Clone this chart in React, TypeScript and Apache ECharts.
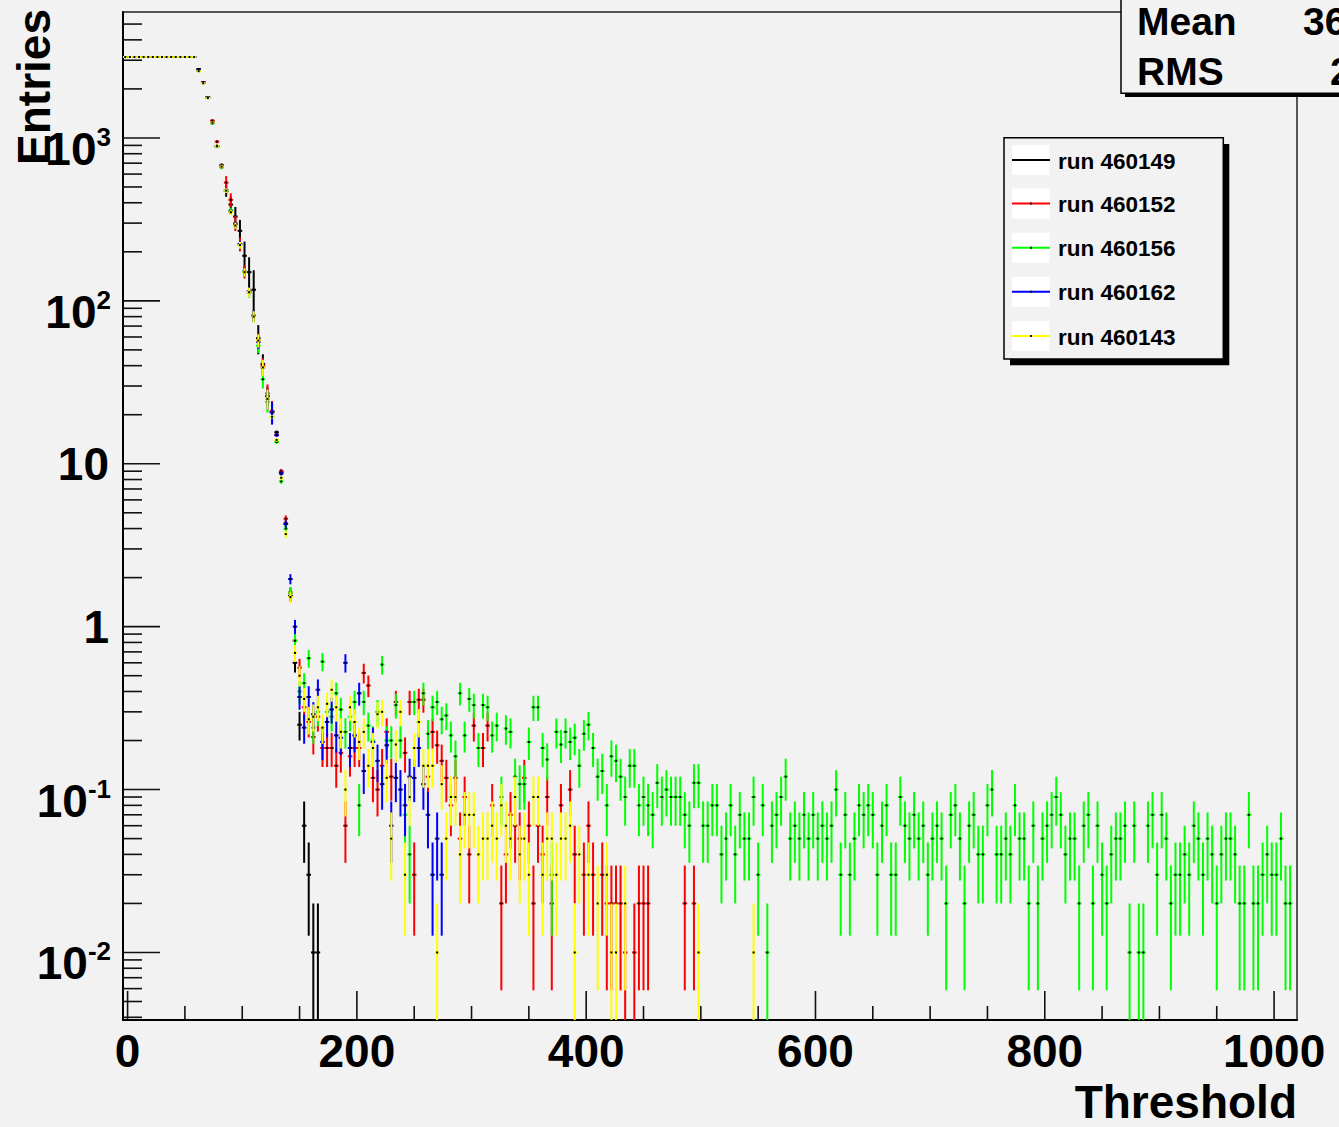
import React, { useEffect, useRef } from "react";
import * as echarts from "echarts";

// ---------- axes ----------
const BIN_WIDTH = 4;
const X_MIN = -4;
const X_MAX = 1020;
const Y_MIN = 0.00385;
const Y_MAX = 5930;

const X_LABELS = [0, 200, 400, 600, 800, 1000];
const X_MINOR_TICKS = [50, 100, 150, 250, 300, 350, 450, 500, 550, 650, 700, 750, 850, 900, 950];
const Y_LABELS = [0.01, 0.1, 1, 10, 100, 1000];
const Y_MINOR_MANTISSAS = [2, 3, 4, 5, 6, 7, 8, 9];
const Y_DECADES = [0.001, 0.01, 0.1, 1, 10, 100, 1000];

// ---------- runs ----------
const RUN_NAMES = ["run 460149", "run 460152", "run 460156", "run 460162", "run 460143"];
const RUN_COLORS = ["#000000", "#ff0000", "#00ff00", "#0000ff", "#ffff00"];

const STAT_LABELS = ["Mean", "RMS"];
const STAT_VALUES = ["36.45", "22.86"];

// head bins: centres -2, 2, 6, ... 146 (38 bins)
const HEAD_FIRST_CENTER = -2;
// tail bins: centres 150, 154, ...
const TAIL_FIRST_CENTER = 150;

const head460149 = [
  3140, 3140, 3140, 3140, 3140, 3140, 3140, 3140, 3140, 3140, 3140, 3140, 3140, 3140, 3140, 3140,
  2650, 2200, 1780, 1240, 890, 680, 475, 390, 329, 269, 189, 150, 117, 59, 41, 26, 21, 15.6, 8.9, 4.3, 1.55, 0.6,
];
const head460152 = [
  3140, 3140, 3140, 3140, 3140, 3140, 3140, 3140, 3140, 3140, 3140, 3140, 3140, 3140, 3140, 3140,
  2600, 2185, 1770, 1277, 949, 667, 532, 417, 300, 223, 151, 114, 81, 57, 40, 27, 21, 15, 9, 4.6, 1.62, 0.82,
];
const head460156 = [
  3140, 3140, 3140, 3140, 3140, 3140, 3140, 3140, 3140, 3140, 3140, 3140, 3140, 3140, 3140, 3140,
  2600, 2170, 1760, 1230, 885, 660, 475, 360, 290, 220, 150, 112, 80, 53, 33, 24, 19.4, 13.6, 7.8, 4.0, 1.62, 0.82,
];
const head460162 = [
  3140, 3140, 3140, 3140, 3140, 3140, 3140, 3140, 3140, 3140, 3140, 3140, 3140, 3140, 3140, 3140,
  2600, 2180, 1770, 1240, 890, 667, 475, 353, 293, 223, 151, 114, 81, 56, 39, 25, 20.6, 15, 8.7, 4.27, 1.96, 1.0,
];
const head460143 = [
  3140, 3140, 3140, 3140, 3140, 3140, 3140, 3140, 3140, 3140, 3140, 3140, 3140, 3140, 3140, 3140,
  2570, 2170, 1760, 1240, 890, 667, 475, 350, 290, 220, 150, 113, 80, 57, 39, 25, 19.4, 14, 8.2, 3.7, 1.52, 0.69,
];

const tail460149 = [0.25, 0.06, 0.03, 0.01, 0.01];
const tail460152 = [
  0.56, 0.32, 0.26, 0.21, 0.28, 0.18, 0.18, 0.18, 0.14, 0.168,
  0.06, 0.16, 0.18, 0.18, 0.52, 0.435, 0.118, 0.1, 0.14, 0.226,
  0.12, 0.345, 0, 0.168, 0.345, 0.03, 0.356, 0.356, 0.12, 0.226,
  0.187, 0.15, 0.118, 0.08, 0.118, 0.05, 0.09, 0.04, 0.247, 0,
  0.18, 0.247, 0.08, 0, 0.02, 0.04, 0.07, 0.06, 0.05, 0.118,
  0.06, 0.02, 0.06, 0.04, 0.09, 0.02, 0, 0.08, 0, 0.1,
  0.04, 0, 0.03, 0.06, 0.03, 0, 0.03, 0.02, 0.02, 0.02,
  0.02, 0.01, 0, 0.01, 0.02, 0.02, 0.02, 0, 0, 0,
  0, 0, 0, 0, 0.02, 0, 0.02,
];
const tail460156 = [
  0.40, 0.45, 0.64, 0.24, 0.30, 0.61, 0.30, 0.28, 0.39, 0.31,
  0.226, 0.28, 0.345, 0.08, 0.345, 0.247, 0.2, 0.3, 0.585, 0.2,
  0.2, 0.33, 0.2, 0.07, 0.04, 0.345, 0.26, 0.39, 0.22, 0.32,
  0.345, 0.27, 0.285, 0.215, 0.16, 0.39, 0.215, 0.36, 0.33, 0.18,
  0.33, 0.32, 0.215, 0.247, 0.09, 0.237, 0.226, 0.12, 0.108, 0.108,
  0.196, 0.32, 0.32, 0.18, 0.153, 0.03, 0.226, 0.189, 0.226, 0.196,
  0.208, 0.14, 0.22, 0.25, 0.18, 0.12, 0.13, 0.08, 0.16, 0.15,
  0.12, 0.09, 0.14, 0.14, 0.08, 0.09, 0.08, 0.07, 0.11, 0.09,
  0.10, 0.09, 0.09, 0.09, 0.07, 0.06, 0.11, 0.11, 0.06, 0.06,
  0.08, 0.08, 0.04, 0.05, 0.08, 0.04, 0.07, 0.05, 0.05, 0.09,
  0.03, 0.08, 0.01, 0.06, 0.07, 0.09, 0.12, 0.05, 0.06, 0.05,
  0.07, 0.05, 0.07, 0.05, 0.06, 0.05, 0.06, 0.10, 0.03, 0.07,
  0.03, 0.05, 0.08, 0.07, 0.08, 0.07, 0.03, 0.06, 0.08, 0.03,
  0.03, 0.09, 0.06, 0.05, 0.07, 0.05, 0.06, 0.03, 0.05, 0.06,
  0.05, 0.02, 0.07, 0.08, 0.05, 0.02, 0.06, 0.07, 0.04, 0.04,
  0.08, 0.10, 0.04, 0.04, 0.05, 0.04, 0.08, 0.05, 0.05, 0.02,
  0.06, 0.02, 0.05, 0.06, 0.07, 0.09, 0.07, 0.04, 0.05, 0.05,
  0.02, 0.06, 0.07, 0.02, 0.06, 0.03, 0.02, 0.04, 0.05, 0.05,
  0.06, 0.01, 0.06, 0.01, 0.01, 0.06, 0.07, 0.03, 0.07, 0.05,
  0.02, 0.03, 0.03, 0.04, 0.03, 0.06, 0.05, 0.03, 0.05, 0.04,
  0.02, 0.04, 0.05, 0.05, 0.04, 0.02, 0.02, 0.07, 0.02, 0.02,
  0.03, 0.04, 0.03, 0.03, 0.05, 0.02, 0.02,
];
const tail460162 = [
  0.37, 0.24, 0.37, 0.29, 0.41, 0.196, 0.26, 0.31, 0.215, 0.208,
  0.6, 0.18, 0.215, 0.39, 0.13, 0, 0.196, 0.15, 0.108, 0.187,
  0.06, 0.118, 0.1, 0.08, 0.12, 0.118, 0.18, 0.108, 0.07, 0.03,
  0.05, 0.03,
];
const tail460143 = [
  0.5, 0.36, 0.27, 0.28, 0.32, 0.24, 0.336, 0.41, 0.32, 0.226,
  0.1, 0.32, 0.26, 0.196, 0.226, 0.14, 0.18, 0.29, 0.3, 0.118,
  0.05, 0.189, 0.3, 0.03, 0.09, 0.18, 0.26, 0.14, 0.14, 0.14,
  0.01, 0.108, 0.05, 0.09, 0.09, 0.04, 0.07, 0.07, 0.07, 0.04,
  0.05, 0.05, 0.06, 0.05, 0.08, 0.06, 0.05, 0.09, 0.04, 0.05,
  0.03, 0.09, 0.09, 0.03, 0.05, 0.05, 0.03, 0.05, 0.05, 0.06,
  0.01, 0.04, 0, 0.03, 0, 0.02, 0, 0.03, 0.01, 0.01,
  0, 0.02, 0, 0, 0, 0, 0, 0, 0, 0,
  0, 0, 0, 0, 0, 0, 0, 0.01, 0, 0,
  0, 0, 0, 0, 0, 0, 0, 0, 0, 0.01,
];

const headErr460149 = [[86, 40], [90, 45], [94, 48], [98, 45], [102, 42], [106, 35], [110, 37], [114, 12], [118, 6]];
const headErr460152 = [[86, 51], [90, 40], [94, 32], [98, 22], [102, 14]];

const HIGH_ENTRY_WEIGHT = 0.5;
const LOW_ENTRY_WEIGHT = 0.01;

const HEADS = [head460149, head460152, head460156, head460162, head460143];
const TAILS = [tail460149, tail460152, tail460156, tail460162, tail460143];
const HEAD_ERRS = [headErr460149, headErr460152, [], [], []];

// ---------- styling ----------
const BG = "#f2f2f2";
const FAMILY = '"Liberation Sans", Arial, Helvetica, sans-serif';
const MAIN_FONT = `bold 46px ${FAMILY}`;
const SUP_FONT = `bold 26px ${FAMILY}`;

let measureCtx: CanvasRenderingContext2D | null = null;
function textWidth(t: string, font: string): number {
  if (!measureCtx) measureCtx = document.createElement("canvas").getContext("2d");
  if (!measureCtx) return t.length * 14;
  measureCtx.font = font;
  return measureCtx.measureText(t).width;
}

function buildPoints(head: number[], tail: number[], headErr: number[][]) {
  const errMap = new Map<number, number>();
  headErr.forEach(([c, e]) => errMap.set(c, e));
  const pts: number[][] = [];
  const push = (c: number, v: number) => {
    if (!(v > 0)) return;
    const e = errMap.has(c)
      ? (errMap.get(c) as number)
      : Math.sqrt(v * (v >= 20 ? HIGH_ENTRY_WEIGHT : LOW_ENTRY_WEIGHT));
    pts.push([c, v, e]);
  };
  head.forEach((v, i) => push(HEAD_FIRST_CENTER + i * BIN_WIDTH, v));
  tail.forEach((v, i) => push(TAIL_FIRST_CENTER + i * BIN_WIDTH, v));
  return pts;
}

function buildOption() {
  const dataSeries = RUN_NAMES.map((name, idx) => {
    const color = RUN_COLORS[idx];
    return {
      type: "custom",
      name,
      silent: true,
      clip: true,
      data: buildPoints(HEADS[idx], TAILS[idx], HEAD_ERRS[idx]),
      encode: { x: 0, y: 1 },
      renderItem: (_p: any, api: any) => {
        const x = api.value(0) as number;
        const v = api.value(1) as number;
        const e = api.value(2) as number;
        const l = api.coord([x - BIN_WIDTH / 2, v]);
        const r = api.coord([x + BIN_WIDTH / 2, v]);
        const t = api.coord([x, v + e]);
        const lowV = v - e > 0 ? v - e : Y_MIN / 100;
        const b = api.coord([x, lowV]);
        const c = api.coord([x, v]);
        return {
          type: "group",
          children: [
            { type: "line", shape: { x1: l[0], y1: l[1], x2: r[0], y2: r[1] }, style: { stroke: color, lineWidth: 2 } },
            { type: "line", shape: { x1: t[0], y1: t[1], x2: b[0], y2: b[1] }, style: { stroke: color, lineWidth: 2 } },
            { type: "rect", shape: { x: c[0] - 1, y: c[1] - 1, width: 2, height: 2 }, style: { fill: "#000" } },
          ],
        };
      },
    };
  });

  const yTickData: number[][] = [];
  Y_LABELS.forEach((v) => yTickData.push([X_MIN, v, 1]));
  Y_DECADES.forEach((d) =>
    Y_MINOR_MANTISSAS.forEach((m) => {
      const v = m * d;
      if (v >= Y_MIN && v <= Y_MAX) yTickData.push([X_MIN, v, 0]);
    })
  );
  const xTickData: number[][] = [];
  X_LABELS.forEach((v) => xTickData.push([v, Y_MIN, 1]));
  X_MINOR_TICKS.forEach((v) => xTickData.push([v, Y_MIN, 0]));

  const yTickSeries = {
    type: "custom",
    silent: true,
    z: 10,
    data: yTickData,
    encode: { x: 0, y: 1 },
    renderItem: (_p: any, api: any) => {
      const v = api.value(1) as number;
      const major = api.value(2) as number;
      const p = api.coord([X_MIN, v]);
      const len = major ? 37 : 19;
      return { type: "line", shape: { x1: p[0], y1: p[1], x2: p[0] + len, y2: p[1] }, style: { stroke: "#111", lineWidth: 1.6 } };
    },
  };
  const xTickSeries = {
    type: "custom",
    silent: true,
    z: 10,
    data: xTickData,
    encode: { x: 0, y: 1 },
    renderItem: (_p: any, api: any) => {
      const v = api.value(0) as number;
      const major = api.value(2) as number;
      const p = api.coord([v, Y_MIN]);
      const len = major ? 29 : 14;
      return { type: "line", shape: { x1: p[0], y1: p[1], x2: p[0], y2: p[1] - len }, style: { stroke: "#111", lineWidth: 1.6 } };
    },
  };
  const yLabelSeries = {
    type: "custom",
    silent: true,
    z: 10,
    data: Y_LABELS.map((v) => [X_MIN, v]),
    encode: { x: 0, y: 1 },
    renderItem: (_p: any, api: any) => {
      const v = api.value(1) as number;
      const p = api.coord([X_MIN, v]);
      const exp = Math.round(Math.log10(v));
      const right = 111;
      if (exp === 0 || exp === 1) {
        return {
          type: "text",
          style: { text: exp === 0 ? "1" : "10", x: right - 2, y: p[1], font: MAIN_FONT, fill: "#000", textAlign: "right", textVerticalAlign: "middle" },
        };
      }
      const sup = String(exp);
      const supW = textWidth(sup, SUP_FONT);
      return {
        type: "group",
        children: [
          { type: "text", style: { text: "10", x: right - supW, y: p[1] + 11, font: MAIN_FONT, fill: "#000", textAlign: "right", textVerticalAlign: "middle" } },
          { type: "text", style: { text: sup, x: right, y: p[1] - 1, font: SUP_FONT, fill: "#000", textAlign: "right", textVerticalAlign: "middle" } },
        ],
      };
    },
  };
  const xLabelSeries = {
    type: "custom",
    silent: true,
    z: 10,
    data: X_LABELS.map((v) => [v, Y_MIN]),
    encode: { x: 0, y: 1 },
    renderItem: (_p: any, api: any) => {
      const v = api.value(0) as number;
      const p = api.coord([v, Y_MIN]);
      return {
        type: "text",
        style: { text: String(v), x: p[0], y: p[1] + 31, font: MAIN_FONT, fill: "#000", textAlign: "center", textVerticalAlign: "middle" },
      };
    },
  };

  const legendRowsY = [160, 203.5, 247.7, 291.7, 336];
  const legendElements: any[] = [];
  RUN_NAMES.forEach((name, i) => {
    const cy = legendRowsY[i];
    legendElements.push({ type: "rect", z: 102, shape: { x: 1012, y: cy - 15, width: 37.5, height: 30 }, style: { fill: "#ffffff" } });
    legendElements.push({ type: "line", z: 103, shape: { x1: 1012, y1: cy, x2: 1050, y2: cy }, style: { stroke: RUN_COLORS[i], lineWidth: 2 } });
    if (i > 0) legendElements.push({ type: "rect", z: 104, shape: { x: 1030, y: cy - 1, width: 2, height: 2 }, style: { fill: "#000" } });
    legendElements.push({
      type: "text",
      z: 103,
      style: { text: name, x: 1058, y: cy + 1, font: `bold 22.5px ${FAMILY}`, fill: "#000", textAlign: "left", textVerticalAlign: "middle" },
    });
  });

  const graphic: any[] = [
    {
      type: "text",
      x: 34,
      y: 9,
      rotation: Math.PI / 2,
      z: 100,
      style: { text: "Entries", font: MAIN_FONT, fill: "#000", textAlign: "right", textVerticalAlign: "middle" },
    },
    {
      type: "text",
      x: 1297,
      y: 1102,
      z: 100,
      style: { text: "Threshold", font: `bold 46px ${FAMILY}`, fill: "#000", textAlign: "right", textVerticalAlign: "middle" },
    },
    // stats box
    { type: "rect", z: 100, shape: { x: 1125, y: -10, width: 260, height: 107 }, style: { fill: "#000" } },
    { type: "rect", z: 101, shape: { x: 1121, y: -10, width: 260, height: 103.3 }, style: { fill: BG, stroke: "#000", lineWidth: 1.5 } },
    { type: "text", z: 102, style: { text: STAT_LABELS[0], x: 1137, y: 21, font: `bold 39px ${FAMILY}`, fill: "#000", textAlign: "left", textVerticalAlign: "middle" } },
    { type: "text", z: 102, style: { text: STAT_LABELS[1], x: 1137, y: 71, font: `bold 39px ${FAMILY}`, fill: "#000", textAlign: "left", textVerticalAlign: "middle" } },
    { type: "text", z: 102, style: { text: STAT_VALUES[0], x: 1303, y: 21, font: `bold 39px ${FAMILY}`, fill: "#000", textAlign: "left", textVerticalAlign: "middle" } },
    { type: "text", z: 102, style: { text: STAT_VALUES[1], x: 1330, y: 71, font: `bold 39px ${FAMILY}`, fill: "#000", textAlign: "left", textVerticalAlign: "middle" } },
    // legend box
    { type: "rect", z: 100, shape: { x: 1010, y: 144, width: 219.3, height: 221.3 }, style: { fill: "#000" } },
    { type: "rect", z: 101, shape: { x: 1004, y: 137.7, width: 219.3, height: 221.3 }, style: { fill: BG, stroke: "#000", lineWidth: 1.5 } },
    ...legendElements,
  ];

  return {
    animation: false,
    backgroundColor: BG,
    grid: { left: 123, right: 42, top: 12, bottom: 107, show: true, borderColor: "#222", borderWidth: 1.5, containLabel: false },
    xAxis: {
      type: "value",
      min: X_MIN,
      max: X_MAX,
      axisLine: { show: true, onZero: false, lineStyle: { color: "#000", width: 2 } },
      axisTick: { show: false },
      axisLabel: { show: false },
      splitLine: { show: false },
    },
    yAxis: {
      type: "log",
      logBase: 10,
      min: Y_MIN,
      max: Y_MAX,
      axisLine: { show: true, onZero: false, lineStyle: { color: "#000", width: 2 } },
      axisTick: { show: false },
      axisLabel: { show: false },
      splitLine: { show: false },
    },
    series: [...dataSeries, yTickSeries, xTickSeries, yLabelSeries, xLabelSeries],
    graphic,
  };
}

export default function App() {
  const ref = useRef<HTMLDivElement>(null);
  useEffect(() => {
    if (!ref.current) return;
    const chart = echarts.init(ref.current, undefined, { renderer: "svg" });
    chart.setOption(buildOption() as any);
    return () => chart.dispose();
  }, []);
  return (
    <div
      ref={ref}
      style={{ position: "fixed", left: 0, top: 0, width: 1339, height: 1127, background: BG }}
    />
  );
}
